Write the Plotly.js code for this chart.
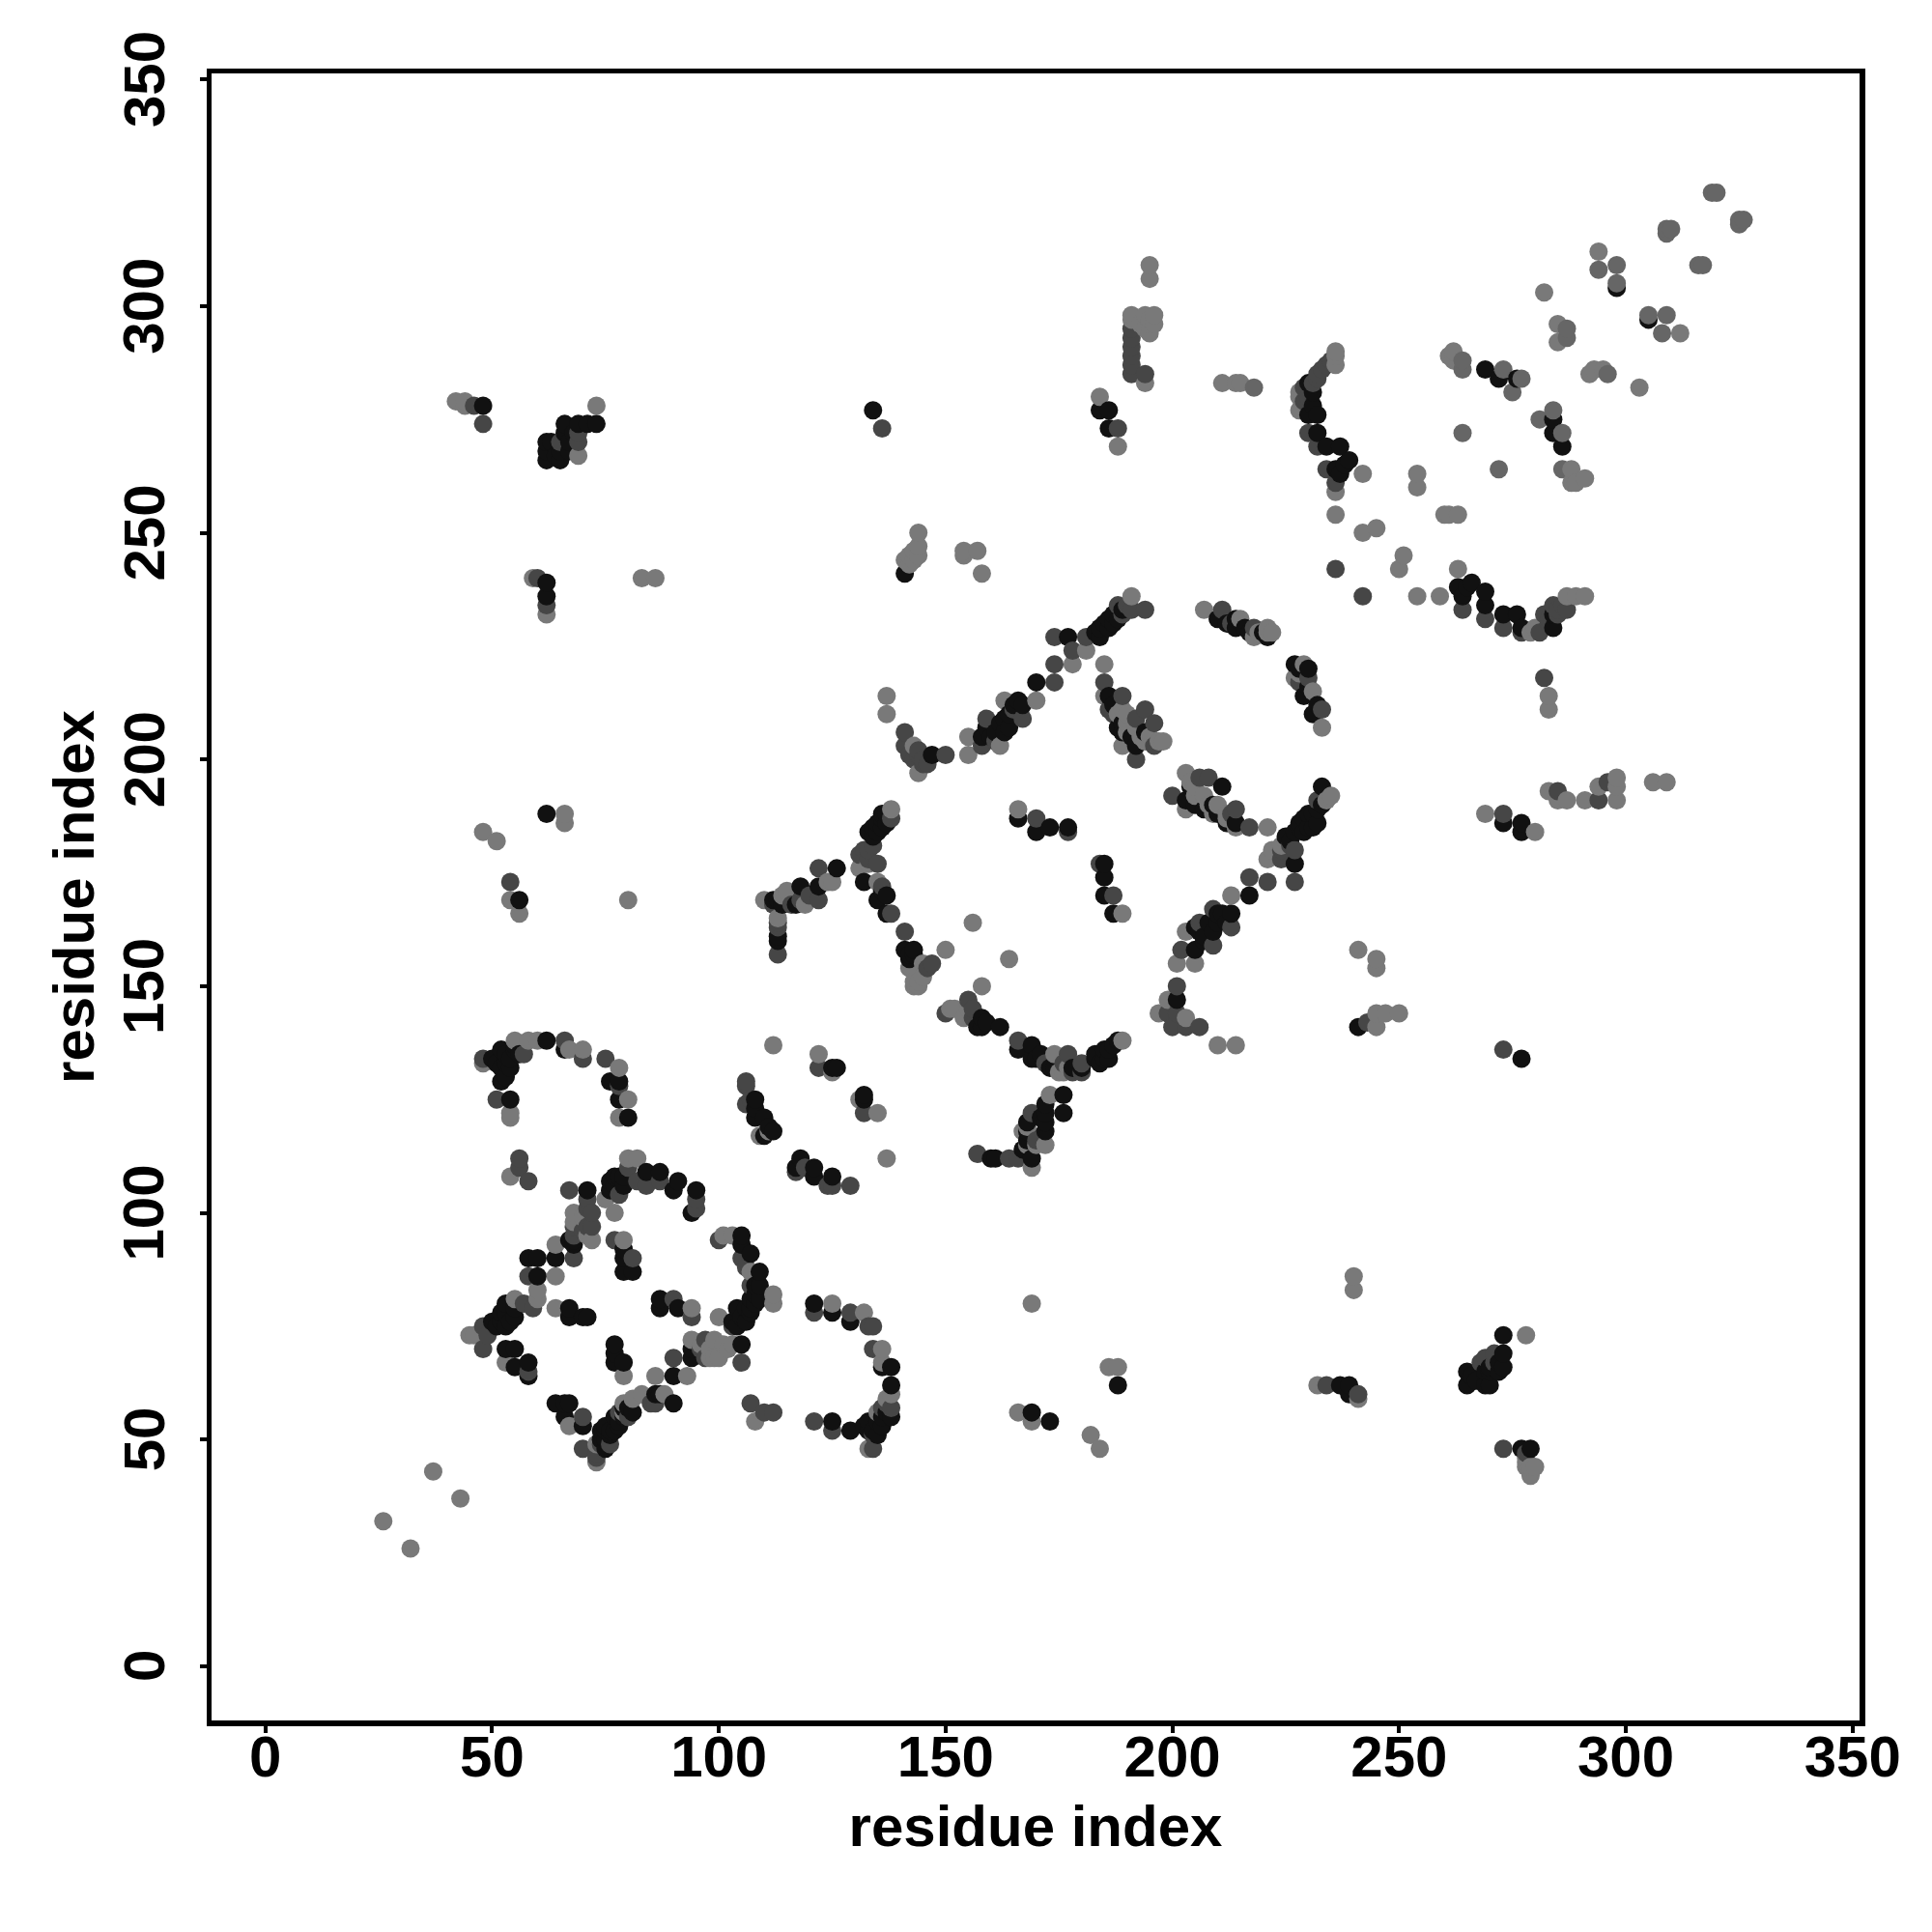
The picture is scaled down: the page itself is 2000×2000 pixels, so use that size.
<!DOCTYPE html>
<html>
<head>
<meta charset="utf-8">
<script src="https://cdn.plot.ly/plotly-3.0.1.min.js"></script>
<style>html,body{margin:0;padding:0;background:#fff}</style>
</head>
<body>
<div id="chart" style="width:2000px;height:2000px"></div>
<script>
const tickValues = [0, 50, 100, 150, 200, 250, 300, 350];
const axisLabel = "residue index";

const darkPairs = [
[50,134],[52,129],[54,125],[53,133],[52,136],[55,137],[55,136],[54,132],[52,132],[62,138],[66,136],[76,129],[78,129],[78,125],[80,121],[51,133],[53,135],[54,134],[56,135],[53,130],
[125,132],[126,132],[132,126],[132,125],[108,125],[108,123],[110,121],[108,121],[110,117],[112,118],[111,119],[118,112],[117,110],[121,110],[121,108],[125,108],
[71,105],[68,94],[67,94],[68,93],[64,90],[76,105],[77,108],[79,106],[79,108],[84,109],[87,109],[91,107],[90,105],[95,105],[94,100],[77,106],[78,108],[76,107],
[79,92],[79,90],[79,87],[81,87],[58,90],[60,90],[60,86],[52,78],[53,80],[51,75],[53,75],[55,77],[53,78],[54,76],[52,76],[50,76],[55,79],[53,70],[55,70],[55,66],[58,67],[58,64],[67,79],[67,77],[71,77],[70,77],[87,81],[87,79],[91,79],[77,71],[77,69],[77,67],[79,67],
[105,95],[105,93],[107,91],[109,87],[109,84],[109,81],[107,81],[107,78],[104,79],[105,77],[104,75],[105,71],[94,68],[94,70],[90,64],[106,79],[108,82],[106,76],[103,76],[108,80],[108,84],[107,79],
[64,58],[66,58],[67,58],[66,55],[70,53],[75,48],[75,50],[75,53],[77,55],[78,53],[76,51],[74,52],[86,60],[90,58],[80,57],[79,55],[81,56],[76,52],[74,50],[75,52],[77,52],[78,54],[79,57],[87,60],
[125,54],[121,80],[125,78],[129,76],[136,66],[138,62],[138,55],[136,55],[136,53],[132,53],[129,52],[135,54],[134,52],[133,52],[138,66],[135,51],[133,54],[137,56],
[147,201],[158,205],[163,206],[163,209],[166,213],[170,217],[177,227],[184,227],[184,229],[186,231],[188,231],[186,214],[188,207],[192,203],[165,212],[183,228],[187,232],[159,207],[164,207],[160,205],[161,206],[162,208],[164,210],[167,212],[185,230],[187,230],[186,229],[189,233],
[187,212],[189,206],[191,205],[189,208],[194,206],
[210,231],[214,231],[214,229],[221,227],[227,221],[229,214],[231,210],[230,220],[212,230],[216,229],[217,228],[220,228],[228,220],[230,216],[232,212],
[211,194],[203,191],[207,189],[210,188],[214,186],[204,194],[205,190],[209,190],[212,186],
[233,194],[232,189],[229,187],[227,184],[232,186],[227,177],[217,170],[213,166],[210,166],[209,162],[205,163],[205,158],[201,147],[230,188],[228,185],[231,188],[212,164],[207,161],[230,185],[233,190],[231,185],[226,182],[225,183],[228,186],[229,184],[211,166],[208,164],[206,162],[207,160],[210,164],
[141,158],[143,158],[158,143],[157,141],[162,141],[166,136],[169,137],[169,134],[173,132],[184,133],[186,134],[185,136],[188,138],[178,132],[142,157],[183,135],[142,156],[143,157],[159,142],[158,141],[170,134],[171,135],[174,132],[183,134],[185,134],[186,136],[187,137],[180,132],
[176,126],[176,122],[172,122],[172,118],[168,118],[167,114],[169,112],[160,112],[161,112],[168,116],[168,120],[172,120],[171,121],[172,124],
[166,187],[170,184],[173,185],[177,185],[185,177],[185,174],[185,170],[187,166],
[136,187],[134,185],[136,185],[133,184],[132,173],[135,169],[137,170],[137,166],[126,176],[122,172],[118,172],[117,168],[114,168],[112,169],[113,160],[137,186],[135,186],[134,183],[135,184],[136,188],[137,188],[136,171],[113,169],[113,161],
[298,304],[305,297],[269,286],[272,284],[276,284],[284,275],[284,272],[286,269],[230,283],[230,276],[232,276],[232,272],[234,269],[237,269],[239,266],[236,264],[237,263],[238,265],[263,238],[264,236],[266,239],[269,237],[269,234],[273,232],[276,232],[277,229],[284,229],[265,238],[231,281],[231,278],[284,232],
[48,278],[62,270],[62,266],[65,266],[66,274],[69,274],[73,274],[134,277],[184,277],[186,277],[186,273],[62,239],[62,236],[141,241],[62,188],[56,169],[273,186],[277,186],[277,184],[241,141],[277,134],[237,62],[239,62],[239,60],[265,62],[265,65],[269,62],[269,65],[273,66],[273,69],[273,73],[277,48],[279,48],[169,56],[173,54],[188,62],[67,268],
[62,268],[63,270],[64,267],[65,268],[66,272],[67,270],[68,272],[71,274],[266,64],[270,62],[270,66],[267,63],[270,65],[272,65],[272,67]
];

const midPairs = [
[48,134],[51,125],[66,138],[70,134],[75,134],[78,128],[57,135],
[122,132],[132,122],[106,129],[106,128],[106,124],[107,125],[124,106],[125,106],[129,106],[117,109],[119,110],
[56,112],[56,110],[58,107],
[67,105],[71,103],[71,101],[72,100],[72,97],[68,97],[68,90],[82,107],[84,106],[87,107],[95,103],[95,101],[80,110],[78,104],[71,97],[70,96],[68,95],
[77,94],[81,90],[58,86],[59,79],[57,80],[48,75],[49,73],[48,70],[58,65],[90,81],[94,77],
[100,94],[105,90],[107,84],[103,75],[97,72],[97,68],[90,68],[105,67],[106,88],[96,70],
[70,55],[70,48],[73,47],[73,46],[86,58],[107,58],[110,56],[112,56],[121,54],[125,52],[121,78],[129,78],[134,75],[133,75],[134,70],[138,57],[134,51],[134,48],[76,49],[80,55],[78,56],[74,49],[85,58],[137,58],[136,57],
[141,206],[141,203],[143,200],[145,200],[150,201],[146,199],[158,203],[159,209],[167,209],[174,217],[174,221],[174,227],[178,224],[181,227],[188,234],[190,234],[194,233],[185,217],[189,214],[187,210],[194,211],[196,208],[196,203],[192,200],[142,201],[144,202],[145,199],[144,201],[161,204],[165,211],[189,232],[191,233],[192,209],[186,211],
[211,233],[218,229],[230,218],[233,211],[228,217],[213,230],
[208,196],[200,192],[214,189],[217,185],[206,196],[213,188],
[226,181],[227,173],[224,178],[221,173],[217,174],[213,163],[209,167],[209,159],[202,158],[201,150],[199,144],[201,144],[200,141],[203,141],[206,141],[232,191],[227,180],[224,180],[206,164],
[141,162],[147,155],[155,147],[150,144],[166,138],[177,135],[180,133],[180,131],[146,154],[156,143],[156,145],[178,131],[176,133],[172,133],
[169,122],[166,112],[164,112],[157,113],[170,116],
[170,187],[177,184],[184,177],[187,170],
[133,180],[131,179],[135,177],[138,166],[122,176],[122,169],[112,168],[113,164],[113,157],[138,187],[134,181],[132,180],[133,178],[136,172],[116,168],[120,170],[118,169],[113,163],
[233,286],[232,285],[231,283],[230,280],[230,272],[232,269],[234,264],[236,261],[236,242],[242,236],[264,233],[269,231],[273,229],[277,228],[281,228],[282,232],[284,234],[287,233],[282,218],[234,287],[235,288],[229,282],[229,279],[232,284],[283,230],[285,232],[286,234],[283,231],[285,233],
[46,278],[48,274],[60,240],[62,234],[69,270],[65,270],[136,273],[188,273],[191,295],[191,291],[191,287],[191,285],[194,285],[54,173],[273,188],[285,193],[294,191],[296,195],[243,142],[273,136],[234,62],[241,60],[269,68],[271,69],[273,48],[69,272],[191,293],[191,289],[271,67],[268,67],[278,47]
];

const softPairs = [
[319,325],[320,325],[326,319],[325,319],[325,318],[309,317],[309,316],[310,317],[317,309],[316,309],[294,308],[298,309],[298,305],[305,298],[309,298],[308,294],[287,295],[287,293],[296,285],[264,288],[264,286],[273,286],[275,281],[284,277],[281,275],[286,272],[264,272],[272,264],[286,264],[218,282],[277,284]
];

const lightPairs = [
[48,133],[54,121],[54,122],[55,138],[58,138],[60,138],[67,136],[70,136],[78,132],[80,125],[78,121],
[112,137],[122,135],[125,131],[131,125],[135,122],[137,112],[109,117],[111,118],[54,108],
[68,100],[68,98],[72,94],[71,95],[64,86],[75,103],[77,100],[80,112],[82,112],[64,93],[70,99],
[79,94],[60,83],[60,81],[45,73],[46,73],[55,81],[53,67],[64,79],[94,79],[79,64],
[101,95],[103,95],[107,87],[112,82],[112,80],[100,77],[94,72],[99,72],[101,71],[103,71],[99,68],[100,68],[86,64],[93,64],[96,71],[98,70],[98,68],[102,70],
[67,53],[73,49],[73,45],[79,56],[79,58],[81,59],[83,60],[88,60],[108,54],[125,80],[132,78],[136,70],[136,67],[133,48],[135,56],[138,60],[137,59],
[137,214],[137,210],[143,203],[144,197],[155,205],[155,201],[162,203],[163,213],[170,213],[178,221],[181,224],[185,221],[185,214],[189,211],[190,208],[192,207],[189,203],[194,204],[198,204],[191,236],[188,210],[190,210],[190,206],[193,205],[195,205],[197,204],
[207,233],[215,231],[218,227],[221,229],[222,228],[229,221],[227,218],[231,215],[233,207],[219,228],[221,228],[228,219],
[203,197],[203,189],[207,192],[210,190],[214,185],[221,185],[204,195],[212,188],[205,194],[205,192],[208,190],[209,188],[212,187],
[235,192],[224,181],[221,178],[213,170],[203,162],[205,155],[201,155],[199,147],[197,144],[203,143],[210,137],[214,137],[225,182],[234,191],[222,180],
[145,155],[142,154],[144,150],[143,150],[150,158],[156,164],[164,156],[158,150],[151,145],[154,143],[174,135],[176,131],[189,138],[145,152],[144,151],[143,151],[152,145],[155,145],[175,131],[177,132],
[173,126],[172,115],[169,110],[168,119],[166,189],[189,166],[167,118],[168,115],[170,115],
[138,189],[131,176],[133,177],[135,173],[125,173],[124,173],[115,171],[119,168],[110,169],[113,165],[114,170],
[294,312],[282,303],[312,294],[303,282],[285,296],[285,292],[292,285],[293,286],[295,286],[262,290],[261,289],[288,264],[288,261],[291,262],[289,261],[236,290],[236,289],[236,287],[228,281],[228,280],[228,277],[242,263],[254,263],[254,260],[211,283],[214,283],[215,283],[236,254],[260,254],[261,254],[263,254],[242,250],[245,251],[251,245],[250,242],[254,236],[259,236],[263,242],[279,228],[287,236],[289,236],[291,236],[283,214],[283,211],[236,259],[280,229],[262,288],
[26,32],[32,26],[37,43],[43,37],[42,279],[44,279],[44,278],[73,278],[69,267],[184,280],[188,269],[195,309],[195,306],[191,298],[194,298],[196,298],[195,294],[194,283],[59,240],[62,232],[83,240],[86,240],[141,244],[144,245],[144,247],[144,250],[142,245],[154,245],[157,246],[158,241],[154,246],[48,184],[51,182],[66,188],[66,186],[54,169],[56,166],[80,169],[269,188],[280,184],[283,193],[285,191],[287,191],[291,191],[294,194],[298,191],[298,196],[298,194],[306,195],[309,195],[241,158],[245,156],[245,154],[245,144],[247,144],[250,144],[245,141],[240,86],[240,83],[232,62],[241,59],[278,73],[278,44],[280,44],[279,42],[166,56],[169,54],[169,80],[182,51],[184,48],[186,66],[188,66],
[193,296],[195,296],[196,296],[194,295],[195,297],[191,297],[143,246],[143,244],[142,243],[278,45],[278,46],[279,44]
];

const shadeGroups = [
  {pairs: darkPairs, color: "#111111"},
  {pairs: midPairs, color: "#464646"},
  {pairs: softPairs, color: "#666666"},
  {pairs: lightPairs, color: "#797979"}
];

// the reference draws contacts ordered by first residue, then second
const contacts = [];
shadeGroups.forEach(g => g.pairs.forEach(p => contacts.push({x: p[0], y: p[1], c: g.color})));
contacts.sort((a, b) => a.x - b.x || a.y - b.y);

const font = {family: "Liberation Sans, Arial, sans-serif", size: 60, color: "#000", weight: 700};

function axis(extra) {
  return Object.assign({
    tickmode: "array",
    tickvals: tickValues,
    ticktext: tickValues.map(String),
    ticks: "outside",
    ticklen: 7,
    tickwidth: 4,
    tickcolor: "#000",
    showline: true,
    linewidth: 5.5,
    linecolor: "#000",
    mirror: true,
    showgrid: false,
    zeroline: false,
    tickfont: font,
    automargin: false
  }, extra);
}

// y tick labels: rotated text centred on each tick through the y scale
const yTickAnnotations = tickValues.map(v => ({
  xref: "paper", yref: "y", x: 0, y: v, xshift: -70, xanchor: "center", yanchor: "middle",
  text: String(v), textangle: -90, showarrow: false, font: font, borderpad: 0
}));

Plotly.newPlot("chart", [{
  type: "scatter",
  mode: "markers",
  x: contacts.map(p => p.x),
  y: contacts.map(p => p.y),
  marker: {size: 19, color: contacts.map(p => p.c), line: {width: 0}},
  hoverinfo: "x+y"
}], {
  width: 2000,
  height: 2000,
  margin: {l: 218.5, r: 75, t: 75.5, b: 219, pad: 0},
  paper_bgcolor: "#fff",
  plot_bgcolor: "#fff",
  showlegend: false,
  annotations: yTickAnnotations,
  xaxis: axis({range: [-11.88, 351.55], ticklabelstandoff: -27, title: {text: axisLabel, font: font, standoff: 20}}),
  yaxis: axis({range: [-11.93, 351.3], showticklabels: false, title: {text: axisLabel, font: font, standoff: 91}})
}, {displayModeBar: false, staticPlot: true});
</script>
</body>
</html>
